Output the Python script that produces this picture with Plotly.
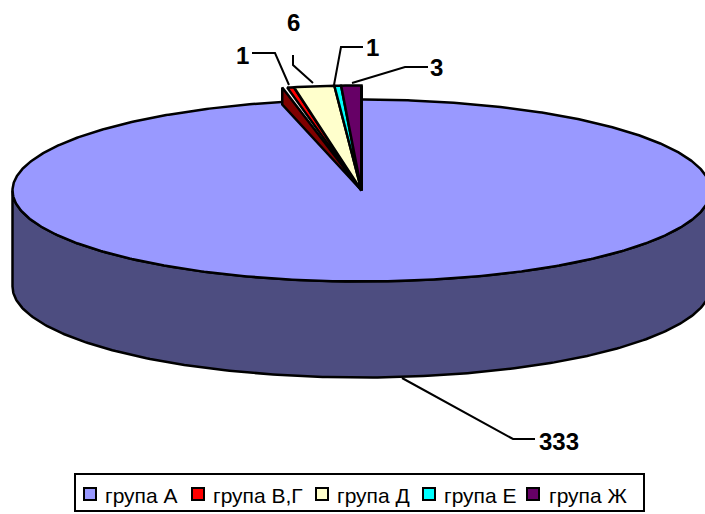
import numpy as np
import plotly.graph_objects as go

# data
categories = ["група А", "група В,Г", "група Д", "група Е", "група Ж"]
values = [333, 1, 6, 1, 3]
top_colors = ["#9999FF", "#FF0000", "#FFFFCC", "#00FFFF", "#660066"]
side_colors = ["#4D4D80", "#800000", "#808066", "#008080", "#330033"]

# projection of the 3D pie
CX, CY = 361.5, 190.5
RX, RY = 349, 91
DEPTH = 96
SMALL_RX, SMALL_RY = 372, 105
SMALL_DEPTH = 17
FONT = "Arial, Liberation Sans, sans-serif"

fractions = np.cumsum([0] + values) / sum(values) * 2 * np.pi


def rim(a, rx=RX, ry=RY, dy=0.0):
    return CX + rx * np.sin(a), CY - ry * np.cos(a) + dy


def sector(a0, a1, rx, ry):
    t = np.linspace(a0, a1, max(3, int((a1 - a0) * 120)))
    x, y = rim(t, rx, ry)
    return [CX, *x, CX], [CY, *y, CY]


fig = go.Figure()


def poly(x, y, color, width=2.5):
    fig.add_trace(go.Scatter(x=x, y=y, mode="lines", fill="toself", fillcolor=color,
                             line=dict(color="black", width=width), showlegend=False,
                             hoverinfo="skip"))


# wall of the big slice
t = np.linspace(np.pi / 2, 3 * np.pi / 2, 240)
xb, yb = rim(t, dy=DEPTH)
xt, yt = rim(t[::-1])
poly([*xb, *xt, xb[0]], [*yb, *yt, yb[0]], side_colors[0])

# top of the big slice
x, y = sector(fractions[0], fractions[1], RX, RY)
poly(x, y, top_colors[0])

# cut face of the small slices, then their tops
a = fractions[1]
px, py = rim(a, SMALL_RX, SMALL_RY)
poly([CX, px - 5, px - 5, CX], [CY, py, py + SMALL_DEPTH, CY], side_colors[1])
for i in range(1, len(values)):
    x, y = sector(fractions[i], fractions[i + 1], SMALL_RX, SMALL_RY)
    poly(x, y, top_colors[i])
fig.add_trace(go.Scatter(x=[CX, CX], y=[CY, CY - SMALL_RY], mode="lines",
                         line=dict(color="black", width=3), showlegend=False, hoverinfo="skip"))

# leader lines and value labels
leaders = [
    ([402, 513, 535], [378, 439, 439], 559, 441),
    ([289, 275, 252], [85, 53, 53], 242, 55),
    ([313, 293, 293], [83, 65, 55], 293, 22),
    ([334, 341, 363], [85, 47, 47], 372, 47),
    ([352, 405, 428], [83, 67, 67], 436, 67),
]
for (lx, ly, tx, ty), val in zip(leaders, values):
    fig.add_trace(go.Scatter(x=lx, y=ly, mode="lines", line=dict(color="black", width=2),
                             showlegend=False, hoverinfo="skip"))
    fig.add_annotation(x=tx, y=ty, text=f"<b>{val}</b>", showarrow=False,
                       font=dict(family=FONT, size=24, color="black"))

# legend: frame, swatches and names
legend_swatch_x = [90, 198, 322, 429, 533]
legend_text_x = [105, 213, 337, 444, 549]
fig.add_shape(type="rect", x0=75, x1=644, y0=474, y1=511, line=dict(color="black", width=2),
              fillcolor="white", layer="below")
fig.add_trace(go.Scatter(x=legend_swatch_x, y=[494] * len(categories), mode="markers",
                         marker=dict(symbol="square", size=12, color=top_colors,
                                     line=dict(color="black", width=2)),
                         showlegend=False, hoverinfo="skip"))
for name, tx in zip(categories, legend_text_x):
    fig.add_annotation(x=tx, y=495, text=name, showarrow=False, xanchor="left",
                       xshift=-2, font=dict(family=FONT, size=21, color="black"))

fig.update_layout(
    width=705, height=514, margin=dict(l=0, r=0, t=0, b=0),
    paper_bgcolor="white", plot_bgcolor="white", showlegend=False,
    xaxis=dict(range=[0, 705], visible=False, fixedrange=True),
    yaxis=dict(range=[514, 0], visible=False, fixedrange=True),
)
fig.write_html("out.html", config={"displayModeBar": False},
               post_script="document.body.style.margin='0';document.documentElement.style.overflow='hidden';")
